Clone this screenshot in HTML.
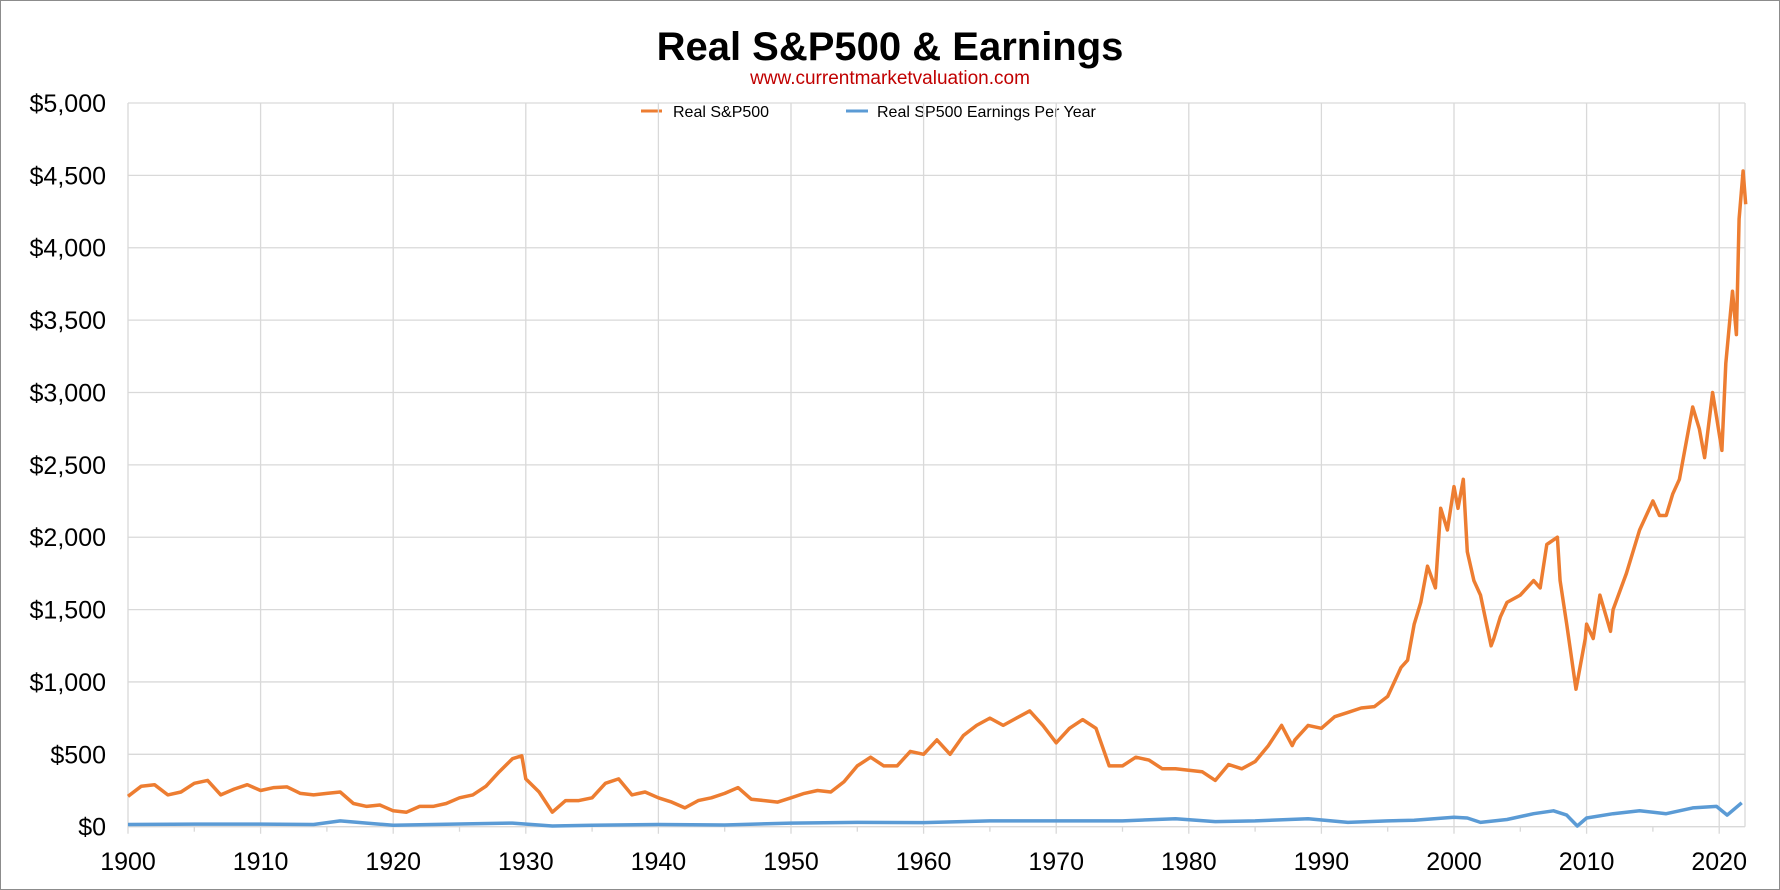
<!DOCTYPE html>
<html><head><meta charset="utf-8"><style>
body{margin:0;background:#fff}
svg{display:block}
text{font-family:"Liberation Sans",sans-serif}
</style></head><body>
<svg id="chart" width="1780" height="890" xmlns="http://www.w3.org/2000/svg">
<rect x="0.5" y="0.5" width="1779" height="889" fill="#fff" stroke="#8c8c8c"/>
<text x="890" y="60" text-anchor="middle" font-size="40" font-weight="bold" fill="#000">Real S&amp;P500 &amp; Earnings</text>
<text x="890" y="84" text-anchor="middle" font-size="19" fill="#c00000">www.currentmarketvaluation.com</text>
<g>
<line x1="641" y1="111" x2="662" y2="111" stroke="#ed7d31" stroke-width="3"/>
<text x="673" y="117" font-size="16" fill="#000">Real S&amp;P500</text>
<line x1="846" y1="111" x2="868" y2="111" stroke="#5b9bd5" stroke-width="3"/>
<text x="877" y="117" font-size="16" fill="#000">Real SP500 Earnings Per Year</text>
</g>
<g id="grid"></g>
<g id="axes"></g>
<g id="series"></g>
</svg>
<script>
const yTicks=[0,500,1000,1500,2000,2500,3000,3500,4000,4500,5000];
const yTickLabels=["$0","$500","$1,000","$1,500","$2,000","$2,500","$3,000","$3,500","$4,000","$4,500","$5,000"];
const xTicks=[1900,1910,1920,1930,1940,1950,1960,1970,1980,1990,2000,2010,2020];
const spYears=[1900,1901,1902,1903,1904,1905,1906,1907,1908,1909,1910,1911,1912,1913,1914,1915,1916,1917,1918,1919,1920,1921,1922,1923,1924,1925,1926,1927,1928,1929,1929.7,1930,1931,1932,1933,1934,1935,1936,1937,1938,1939,1940,1941,1942,1943,1944,1945,1946,1947,1948,1949,1950,1951,1952,1953,1954,1955,1956,1957,1958,1959,1960,1961,1962,1963,1964,1965,1966,1967,1968,1969,1970,1971,1972,1973,1974,1975,1976,1977,1978,1979,1980,1981,1982,1983,1984,1985,1986,1987,1987.8,1988,1989,1990,1991,1992,1993,1994,1995,1996,1996.5,1997,1997.5,1998,1998.6,1999,1999.5,2000,2000.3,2000.7,2001,2001.5,2002,2002.8,2003,2003.5,2004,2005,2006,2006.5,2007,2007.8,2008,2008.5,2009.2,2009.9,2010,2010.5,2011,2011.8,2012,2013,2014,2015,2015.5,2016,2016.5,2017,2018,2018.5,2018.9,2019.5,2020.2,2020.5,2021,2021.3,2021.5,2021.8,2022];
const spValues=[210,280,290,220,240,300,320,220,260,290,250,270,275,230,220,230,240,160,140,150,110,100,140,140,160,200,220,280,380,470,490,330,240,100,180,180,200,300,330,220,240,200,170,130,180,200,230,270,190,180,170,200,230,250,240,310,420,480,420,420,520,500,600,500,630,700,750,700,750,800,700,580,680,740,680,420,420,480,460,400,400,390,380,320,430,400,450,560,700,560,600,700,680,760,790,820,830,900,1100,1150,1400,1550,1800,1650,2200,2050,2350,2200,2400,1900,1700,1600,1250,1300,1450,1550,1600,1700,1650,1950,2000,1700,1400,950,1300,1400,1300,1600,1350,1500,1750,2050,2250,2150,2150,2300,2400,2900,2750,2550,3000,2600,3200,3700,3400,4200,4530,4300];
const epsYears=[1900,1905,1910,1914,1916,1918,1920,1923,1926,1929,1932,1935,1940,1945,1950,1955,1960,1965,1970,1975,1979,1982,1985,1989,1992,1995,1997,2000,2001,2002,2004,2006,2007.5,2008.5,2009.3,2010,2012,2014,2016,2018,2019.8,2020.6,2021.7];
const epsValues=[15,18,18,15,40,25,10,15,20,25,5,10,15,12,25,30,28,40,40,40,55,35,40,55,30,40,45,65,60,30,50,90,110,80,5,60,90,110,90,130,140,80,165];
const X0=128,XW=132.6,Y0=826.7,YK=(826.7-103)/5000,XR=1745;
const sx=y=>X0+(y-1900)/10*XW;
const sy=v=>Y0-v*YK;
const NS="http://www.w3.org/2000/svg";
function mk(tag,parent,attrs){const e=document.createElementNS(NS,tag);for(const k in attrs)e.setAttribute(k,attrs[k]);parent.appendChild(e);return e;}
const grid=document.getElementById('grid'),axes=document.getElementById('axes'),series=document.getElementById('series');
yTicks.forEach((v,i)=>{
 const l=mk('line',grid,{x1:X0,x2:XR,y1:sy(v),y2:sy(v),stroke:'#d9d9d9','stroke-width':1.3});
 
 
 const t=mk('text',axes,{x:106,y:sy(v)+9,'text-anchor':'end','font-size':25,fill:'#000'});
 t.textContent=yTickLabels[i];
 
 
});
xTicks.forEach(y=>{
 const l=mk('line',grid,{x1:sx(y),x2:sx(y),y1:sy(5000),y2:Y0+7,stroke:'#d9d9d9','stroke-width':1.3});
 
 
 const m=mk('line',grid,{x1:sx(y+5),x2:sx(y+5),y1:Y0,y2:Y0+5,stroke:'#d9d9d9','stroke-width':1.3});
 
 
 const t=mk('text',axes,{x:sx(y),y:870,'text-anchor':'middle','font-size':25,fill:'#000'});
 t.textContent=y;
 
 
});
const r=mk('line',grid,{x1:XR,x2:XR,y1:sy(5000),y2:Y0,stroke:'#d9d9d9','stroke-width':1.3});


function path(xs,vs){return xs.map((x,i)=>(i?'L':'M')+sx(x).toFixed(1)+','+sy(vs[i]).toFixed(1)).join('');}
const p1=mk('path',series,{d:path(epsYears,epsValues),fill:'none',stroke:'#5b9bd5','stroke-width':3.5,'stroke-linejoin':'round'});


const p2=mk('path',series,{d:path(spYears,spValues),fill:'none',stroke:'#ed7d31','stroke-width':3.5,'stroke-linejoin':'round'});


</script>
</body></html>
